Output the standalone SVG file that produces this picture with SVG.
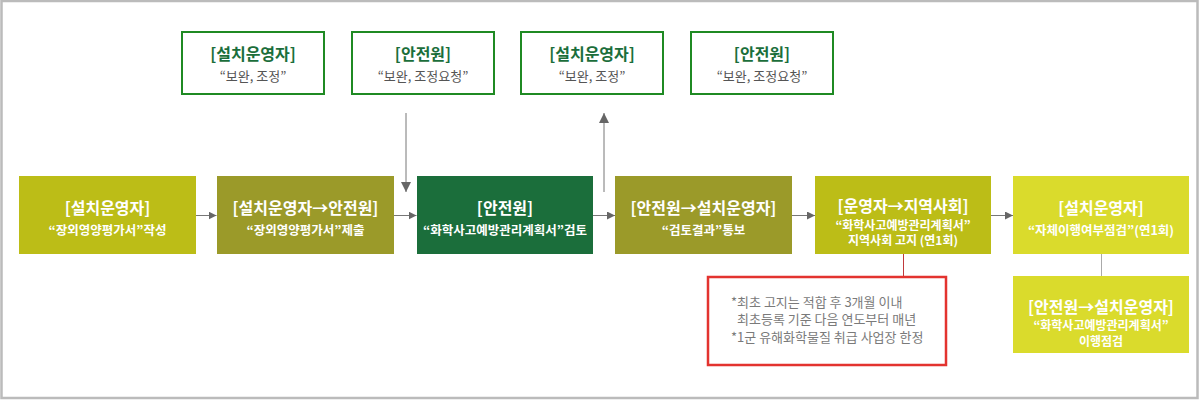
<svg xmlns="http://www.w3.org/2000/svg" width="1200" height="400" viewBox="0 0 1200 400">
<style>
text{font-family:"Noto Sans CJK KR","Noto Sans",sans-serif;text-anchor:middle}
.t{font-size:16px;font-weight:bold;fill:#fff}
.s{font-size:12.5px;font-weight:bold;fill:#fff}
.s3{font-size:12px;font-weight:bold;fill:#fff}
.tt{font-size:16px;font-weight:bold;fill:#1b6e3b}
.ts{font-size:13px;fill:#555}
.top{fill:#fff;stroke:#1f8a23;stroke-width:2}
.n{font-size:13px;fill:#7a7a7a;text-anchor:start}
.c{stroke:#777;stroke-width:1;fill:none}
</style>
<defs>
<marker id="ah" viewBox="0 0 8 8" refX="8" refY="4" markerWidth="8" markerHeight="8" markerUnits="userSpaceOnUse" orient="auto">
<path d="M0,0 L8,4 L0,8 Z" fill="#666"/>
</marker>
<marker id="ahb" viewBox="0 0 10 10" refX="10" refY="5" markerWidth="10" markerHeight="10" markerUnits="userSpaceOnUse" orient="auto">
<path d="M0,0 L10,5 L0,10 Z" fill="#666"/>
</marker>
</defs>
<rect x="0" y="0" width="1200" height="400" fill="#fff"/>
<rect x="1.5" y="1" width="1196" height="397" fill="none" stroke="#bbb" stroke-width="2.5"/>

<g id="connectors">
<line class="c" x1="196" y1="215.5" x2="216.5" y2="215.5" marker-end="url(#ah)"/>
<line class="c" x1="394" y1="215.5" x2="416.5" y2="215.5" marker-end="url(#ah)"/>
<line class="c" x1="593" y1="215.5" x2="615" y2="215.5" marker-end="url(#ah)"/>
<line class="c" x1="792" y1="215.5" x2="815" y2="215.5" marker-end="url(#ah)"/>
<line class="c" x1="991" y1="215.5" x2="1013" y2="215.5" marker-end="url(#ah)"/>
<line class="c" x1="406" y1="113" x2="406" y2="192" marker-end="url(#ahb)"/>
<line class="c" x1="604" y1="192" x2="604" y2="113" marker-end="url(#ahb)"/>
<line x1="903.5" y1="254" x2="903.5" y2="277" stroke="#c0393b" stroke-width="1"/>
<line x1="1101.5" y1="254" x2="1101.5" y2="276" stroke="#aaa" stroke-width="1"/>
</g>

<g id="top1">
<rect class="top" x="182" y="32" width="142" height="62"/>
<text class="tt" x="253" y="60">[설치운영자]</text>
<text class="ts" x="253" y="81">“보완, 조정”</text>
</g>
<g id="top2">
<rect class="top" x="352" y="32" width="142" height="62"/>
<text class="tt" x="423" y="60">[안전원]</text>
<text class="ts" x="423" y="81">“보완, 조정요청”</text>
</g>
<g id="top3">
<rect class="top" x="521" y="32" width="142" height="62"/>
<text class="tt" x="592" y="60">[설치운영자]</text>
<text class="ts" x="592" y="81">“보완, 조정”</text>
</g>
<g id="top4">
<rect class="top" x="691" y="32" width="142" height="62"/>
<text class="tt" x="762" y="60">[안전원]</text>
<text class="ts" x="762" y="81">“보완, 조정요청”</text>
</g>

<g id="step1">
<rect x="19" y="176" width="177" height="78" fill="#bcbd17"/>
<text class="t" x="107.5" y="214">[설치운영자]</text>
<text class="s" x="107.5" y="235">“장외영양평가서”작성</text>
</g>
<g id="step2">
<rect x="217" y="176" width="177" height="78" fill="#9b9a29"/>
<text class="t" x="305.5" y="214">[설치운영자→안전원]</text>
<text class="s" x="305.5" y="235">“장외영양평가서”제출</text>
</g>
<g id="step3">
<rect x="417" y="176" width="176" height="78" fill="#1b6e3b"/>
<text class="t" x="505" y="214">[안전원]</text>
<text class="s" x="505" y="235">“화학사고예방관리계획서”검토</text>
</g>
<g id="step4">
<rect x="615" y="176" width="177" height="78" fill="#9b9a29"/>
<text class="t" x="703.5" y="214">[안전원→설치운영자]</text>
<text class="s" x="703.5" y="235">“검토결과”통보</text>
</g>
<g id="step5">
<rect x="815" y="176" width="176" height="78" fill="#bcbd17"/>
<text class="t" x="903" y="212">[운영자→지역사회]</text>
<text class="s3" x="903" y="229.5">“화학사고예방관리계획서”</text>
<text class="s3" x="903" y="245">지역사회 고지 (연1회)</text>
</g>
<g id="step6">
<rect x="1013" y="176" width="176" height="78" fill="#dadb2c"/>
<text class="t" x="1101" y="214">[설치운영자]</text>
<text class="s" x="1101" y="235">“자체이행여부점검”(연1회)</text>
</g>
<g id="step7">
<rect x="1013" y="276" width="176" height="77" fill="#dadb2c"/>
<text class="t" x="1101" y="313">[안전원→설치운영자]</text>
<text class="s3" x="1101" y="330">“화학사고예방관리계획서”</text>
<text class="s3" x="1101" y="345.5">이행점검</text>
</g>
<g id="note">
<rect x="708" y="277" width="238" height="88" fill="#fff" stroke="#e3332f" stroke-width="2.5"/>
<text class="n" x="731" y="306.5">*최초 고지는 적합 후 3개월 이내</text>
<text class="n" x="737" y="324">최초등록 기준 다음 연도부터 매년</text>
<text class="n" x="731" y="341.5">*1군 유해화학물질 취급 사업장 한정</text>
</g>
</svg>
